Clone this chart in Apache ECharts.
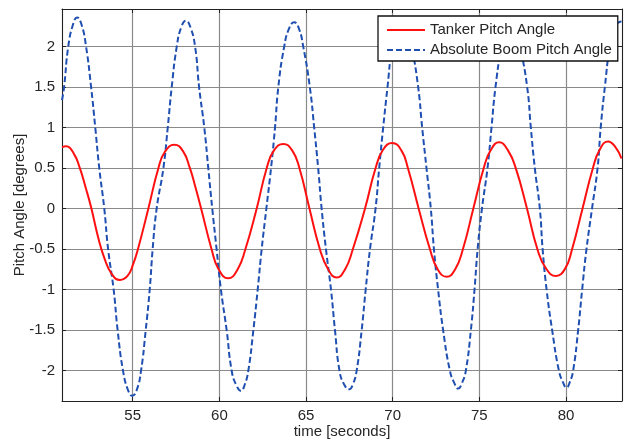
<!DOCTYPE html>
<html>
<head>
<meta charset="utf-8">
<script src="https://cdn.jsdelivr.net/npm/echarts@6/dist/echarts.min.js"></script>
<style>
html,body{margin:0;padding:0;background:#fff;}
#chart{width:633px;height:444px;}
</style>
</head>
<body>
<div id="chart"></div>
<script>
// ---- Data ----
var seriesNames = ['Tanker Pitch Angle', 'Absolute Boom Pitch Angle'];
var xTickLabels = ['55', '60', '65', '70', '75', '80'];
var yTickLabels = ['-2', '-1.5', '-1', '-0.5', '0', '0.5', '1', '1.5', '2'];

var tankerTime = [50.92, 51.15, 51.6, 51.95, 52.3, 52.62, 53.0, 53.35, 53.8, 54.27, 54.7, 55.0, 55.3, 55.9, 56.48, 56.85, 57.4, 57.9, 58.3, 58.6, 58.95, 59.55, 59.94, 60.51, 61.05, 61.5, 62.15, 62.73, 63.15, 63.69, 64.2, 64.62, 65.2, 65.8, 66.28, 66.76, 67.25, 67.7, 68.4, 69.01, 69.45, 69.97, 70.5, 70.88, 71.5, 72.15, 72.6, 73.11, 73.6, 74.05, 74.65, 75.25, 75.65, 76.14, 76.65, 77.1, 77.75, 78.35, 78.85, 79.42, 79.95, 80.35, 80.95, 81.55, 81.95, 82.43, 82.85, 83.2];
var tankerPitch = [0.76, 0.77, 0.68, 0.5, 0.25, 0.0, -0.35, -0.6, -0.81, -0.88, -0.83, -0.7, -0.5, 0.0, 0.5, 0.7, 0.79, 0.71, 0.5, 0.28, 0.0, -0.5, -0.74, -0.86, -0.75, -0.5, 0.0, 0.5, 0.72, 0.8, 0.72, 0.5, 0.0, -0.5, -0.75, -0.85, -0.75, -0.5, 0.0, 0.5, 0.73, 0.81, 0.72, 0.5, 0.0, -0.5, -0.75, -0.84, -0.75, -0.5, 0.0, 0.5, 0.72, 0.82, 0.72, 0.5, 0.0, -0.5, -0.74, -0.83, -0.74, -0.5, 0.0, 0.5, 0.73, 0.83, 0.76, 0.62];

var boomTime = [50.92, 51.04, 51.28, 51.55, 51.79, 52.05, 52.31, 52.6, 52.84, 53.07, 53.36, 53.58, 53.9, 54.13, 54.44, 54.73, 54.98, 55.23, 55.48, 55.75, 55.98, 56.15, 56.38, 56.77, 57.02, 57.25, 57.54, 57.8, 58.07, 58.33, 58.6, 58.83, 59.13, 59.36, 59.59, 59.84, 60.09, 60.42, 60.71, 60.98, 61.25, 61.45, 61.67, 61.96, 62.21, 62.44, 62.71, 62.98, 63.21, 63.4, 63.74, 64.03, 64.32, 64.58, 64.84, 65.22, 65.47, 65.7, 65.9, 66.15, 66.44, 66.67, 66.93, 67.2, 67.49, 67.7, 67.92, 68.21, 68.44, 68.69, 69.01, 69.22, 69.45, 69.7, 69.97, 70.25, 70.55, 70.85, 71.1, 71.47, 71.7, 71.95, 72.2, 72.38, 72.62, 72.91, 73.3, 73.55, 73.78, 74.0, 74.22, 74.51, 74.72, 74.9, 75.15, 75.47, 75.7, 75.93, 76.28, 76.55, 76.8, 77.07, 77.35, 77.76, 77.97, 78.2, 78.49, 78.65, 78.88, 79.2, 79.59, 79.82, 80.03, 80.22, 80.41, 80.7, 80.93, 81.18, 81.5, 81.82, 82.0, 82.24, 82.53, 82.8, 83.05, 83.2];
var boomPitch = [1.34, 1.5, 2.0, 2.27, 2.36, 2.27, 2.0, 1.5, 1.0, 0.5, 0.0, -0.5, -1.0, -1.5, -2.0, -2.24, -2.31, -2.24, -2.0, -1.5, -1.0, -0.5, 0.0, 0.5, 1.0, 1.5, 2.0, 2.24, 2.32, 2.24, 2.0, 1.5, 1.0, 0.5, 0.0, -0.5, -1.0, -1.5, -2.0, -2.18, -2.25, -2.18, -2.0, -1.5, -1.0, -0.5, 0.0, 0.5, 1.0, 1.5, 2.0, 2.23, 2.3, 2.23, 2.0, 1.5, 1.0, 0.5, 0.0, -0.5, -1.0, -1.5, -2.0, -2.17, -2.23, -2.17, -2.0, -1.5, -1.0, -0.5, 0.0, 0.5, 1.0, 1.5, 2.0, 2.22, 2.3, 2.22, 2.0, 1.5, 1.0, 0.5, 0.0, -0.5, -1.0, -1.5, -2.0, -2.15, -2.22, -2.15, -2.0, -1.5, -1.0, -0.5, 0.0, 0.5, 1.0, 1.5, 2.0, 2.22, 2.29, 2.22, 2.0, 1.5, 1.0, 0.5, 0.0, -0.5, -1.0, -1.5, -2.0, -2.14, -2.21, -2.14, -2.0, -1.5, -1.0, -0.5, 0.0, 0.5, 1.0, 1.5, 2.0, 2.22, 2.3, 2.31];

var xMin = 50.92, xMax = 83.23;
var yMin = -2.374, yMax = 2.465;

function pairs(xs, ys) {
  var out = [];
  for (var i = 0; i < xs.length; i++) out.push([xs[i], ys[i]]);
  return out;
}

var FONT = '"Liberation Sans", Arial, Helvetica, sans-serif';
var TXT = '#262626';
var GRID = '#8a8a8a';
var RED = '#ff1010';
var BLUE = '#1f4fb0';

var chart = echarts.init(document.getElementById('chart'), null, {renderer: 'canvas'});

function xAxisCfg(pos, labels) {
  return {
    type: 'value', position: pos, min: xMin, max: xMax,
    splitNumber: 6, minInterval: 5, maxInterval: 5,
    axisLine: {show: true, onZero: false, lineStyle: {color: '#222', width: 1}},
    axisTick: {show: true, inside: true, length: 4, lineStyle: {color: '#222'}},
    axisLabel: {show: labels, showMinLabel: false, showMaxLabel: false, margin: 7,
      color: TXT, fontSize: 15, fontFamily: FONT,
      formatter: function (v) { var s = String(v); return xTickLabels.indexOf(s) >= 0 ? s : ''; }},
    splitLine: {show: labels, lineStyle: {color: GRID, width: 1.2}},
    name: labels ? 'time [seconds]' : '', nameLocation: 'middle', nameGap: 23,
    nameMoveOverlap: false,
    nameTextStyle: {color: TXT, fontSize: 15, fontFamily: FONT}
  };
}
function yAxisCfg(pos, labels) {
  return {
    type: 'value', position: pos, min: yMin, max: yMax,
    splitNumber: 10, minInterval: 0.5, maxInterval: 0.5,
    axisLine: {show: true, onZero: false, lineStyle: {color: '#222', width: 1}},
    axisTick: {show: true, inside: true, length: 4, lineStyle: {color: '#222'}},
    axisLabel: {show: labels, showMinLabel: false, showMaxLabel: false, margin: 7,
      color: TXT, fontSize: 15, fontFamily: FONT,
      formatter: function (v) { var s = String(v); return yTickLabels.indexOf(s) >= 0 ? s : ''; }},
    splitLine: {show: labels, lineStyle: {color: GRID, width: 1.2}},
    name: labels ? 'Pitch Angle [degrees]' : '', nameLocation: 'middle', nameGap: 35,
    nameRotate: 90, nameMoveOverlap: false,
    nameTextStyle: {color: TXT, fontSize: 15, fontFamily: FONT}
  };
}

chart.setOption({
  animation: false,
  backgroundColor: '#fff',
  grid: {left: 62, right: 11, top: 9, bottom: 43, containLabel: false, outerBoundsMode: 'none'},
  xAxis: [xAxisCfg('bottom', true), xAxisCfg('top', false)],
  yAxis: [yAxisCfg('left', true), yAxisCfg('right', false)],
  legend: {
    orient: 'vertical', left: 378, top: 16,
    padding: [4, 6, 1, 8], itemGap: 0, itemWidth: 38, itemHeight: 14,
    backgroundColor: '#fff', borderColor: '#111', borderWidth: 1.3, borderRadius: 0,
    itemStyle: {color: 'rgba(0,0,0,0)', borderColor: 'rgba(0,0,0,0)', borderWidth: 0, opacity: 0},
    textStyle: {color: TXT, fontSize: 15, fontFamily: FONT, lineHeight: 20},
    data: seriesNames
  },
  series: [
    {
      name: seriesNames[0], type: 'line', xAxisIndex: 0, yAxisIndex: 0,
      data: pairs(tankerTime, tankerPitch), smooth: 0.5, symbol: 'none',
      lineStyle: {color: RED, width: 2}, itemStyle: {color: RED}, z: 3
    },
    {
      name: seriesNames[1], type: 'line', xAxisIndex: 0, yAxisIndex: 0,
      data: pairs(boomTime, boomPitch), smooth: 0.5, symbol: 'none',
      lineStyle: {color: BLUE, width: 2, type: [6, 3]}, itemStyle: {color: BLUE}, z: 2
    }
  ]
});
</script>
</body>
</html>
